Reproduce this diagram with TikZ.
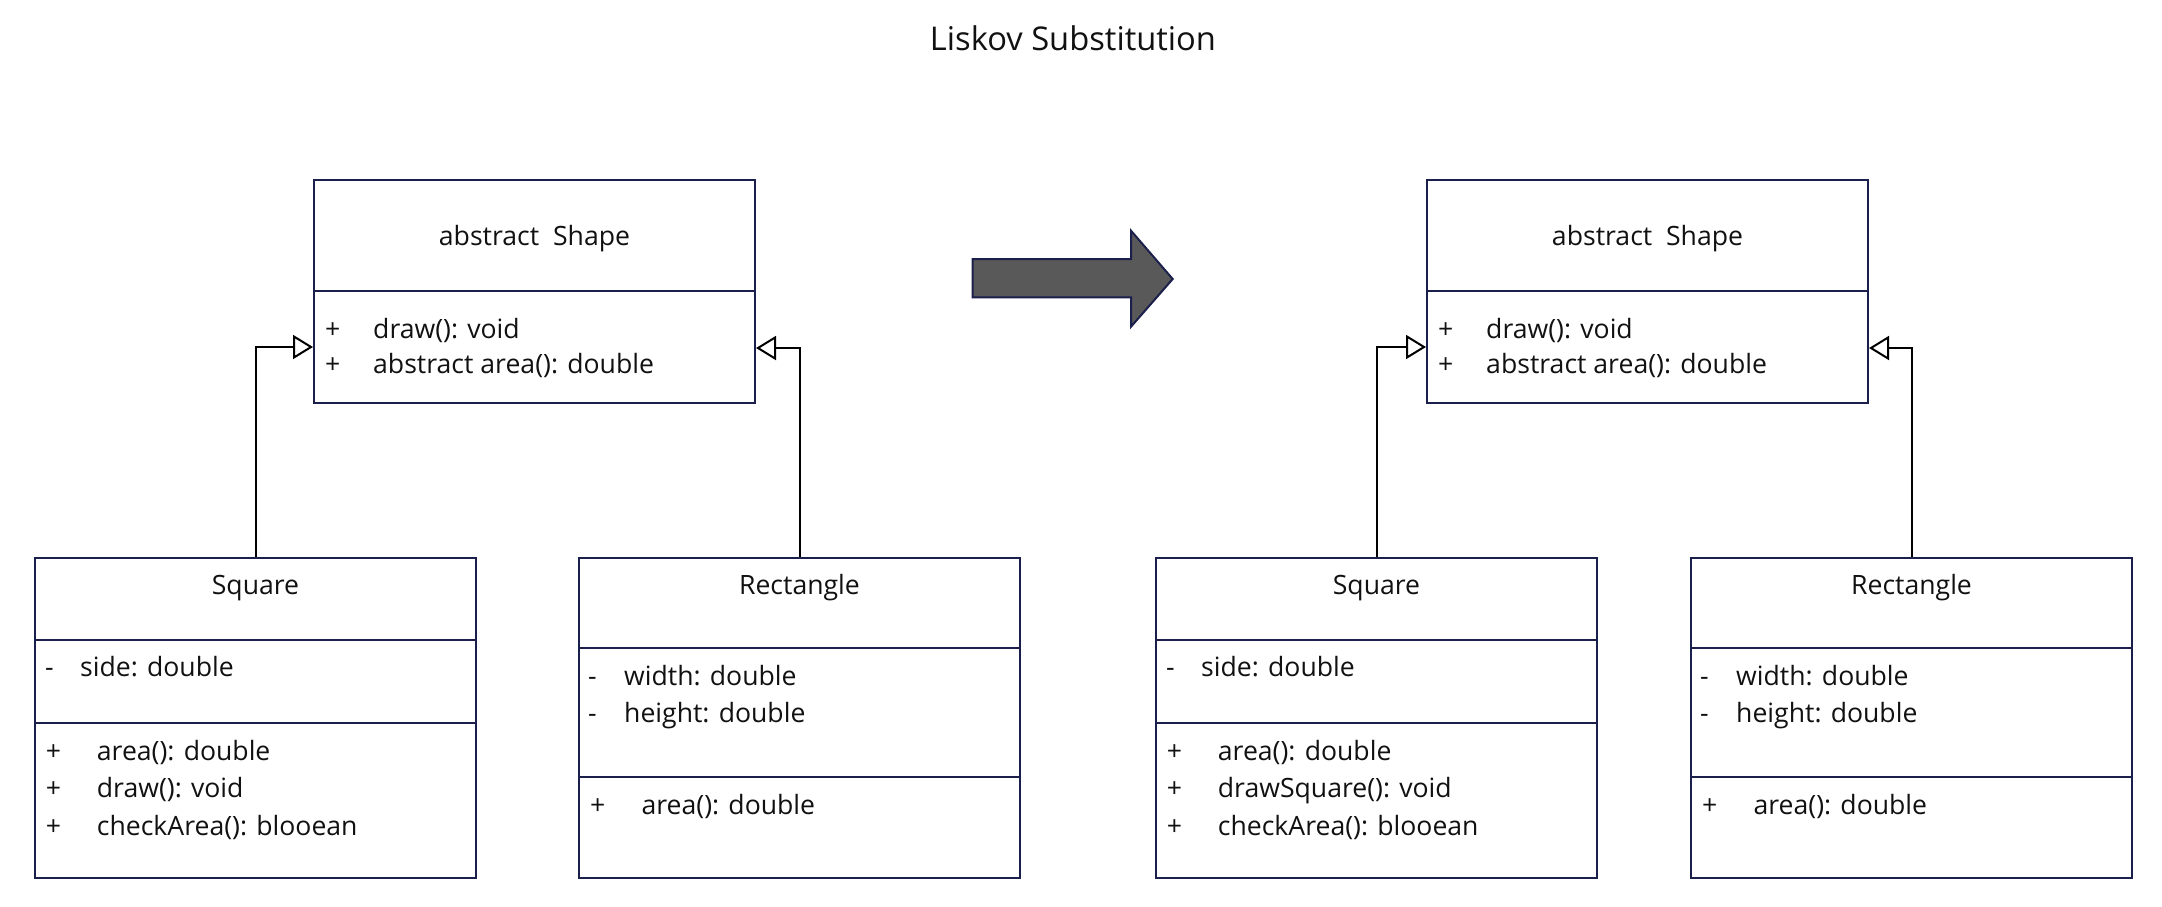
\documentclass[tikz,border=0pt]{standalone}
\usepackage{fontspec}
\setmainfont{Open Sans}
\usetikzlibrary{arrows.meta}
\definecolor{navy}{HTML}{1B1F4B}
\definecolor{ink}{HTML}{111111}
\definecolor{arrowgray}{HTML}{595959}
\begin{document}
\begin{tikzpicture}[x=1pt,y=-1pt,
  classbox/.style={draw=navy, line width=2pt, inner sep=0pt, anchor=north west, minimum width=441pt},
  sep/.style={draw=navy, line width=2pt},
  txt/.style={inner sep=0pt, text=ink, font=\fontsize{26.6}{30}\selectfont},
  inh/.style={draw=black, line width=2pt, -{Triangle[length=20pt,width=24pt,fill=white]}},
  bigarrow/.style={draw=navy, fill=arrowgray, line width=2pt, line join=miter}
]
\useasboundingbox (0,0) rectangle (2162,906);

\node[inner sep=0pt, text=ink, font=\fontsize{32.7}{36}\selectfont, anchor=base] (title) at (1073,50.7) {Liskov Substitution};

% ---------- left diagram ----------
\node[classbox, minimum height=223pt] (shapeA) at (313,179) {};
\draw[sep] (shapeA.west |- 0,291) -- (shapeA.east |- 0,291);
\node[txt, anchor=base] (shapeAn) at ([shift={(0,66)}]shapeA.north) {abstract\ \ Shape};
\node[txt, anchor=base west] (shapeAp1) at ([shift={(12,159)}]shapeA.north west) {+};
\node[txt, anchor=base west] (shapeAm1) at ([shift={(60,159)}]shapeA.north west) {draw(): void};
\node[txt, anchor=base west] (shapeAp2) at ([shift={(12,194)}]shapeA.north west) {+};
\node[txt, anchor=base west] (shapeAm2) at ([shift={(60,194)}]shapeA.north west) {abstract area(): double};

\node[classbox, minimum height=320pt] (sqA) at (34,557) {};
\draw[sep] (sqA.west |- 0,640) -- (sqA.east |- 0,640);
\draw[sep] (sqA.west |- 0,723) -- (sqA.east |- 0,723);
\node[txt, anchor=base] (sqAn) at ([shift={(0,37.3)}]sqA.north) {Square};
\node[txt, anchor=base west] (sqAd1) at ([shift={(11,119.7)}]sqA.north west) {-};
\node[txt, anchor=base west] (sqAa1) at ([shift={(46,119.7)}]sqA.north west) {side: double};
\node[txt, anchor=base west] (sqAp1) at ([shift={(11.7,203)}]sqA.north west) {+};
\node[txt, anchor=base west] (sqAm1) at ([shift={(62.7,203)}]sqA.north west) {area(): double};
\node[txt, anchor=base west] (sqAp2) at ([shift={(11.7,240.7)}]sqA.north west) {+};
\node[txt, anchor=base west] (sqAm2) at ([shift={(62.7,240.7)}]sqA.north west) {draw(): void};
\node[txt, anchor=base west] (sqAp3) at ([shift={(11.7,278)}]sqA.north west) {+};
\node[txt, anchor=base west] (sqAm3) at ([shift={(62.7,278)}]sqA.north west) {checkArea(): blooean};

\node[classbox, minimum height=320pt] (rectA) at (578,557) {};
\draw[sep] (rectA.west |- 0,648) -- (rectA.east |- 0,648);
\draw[sep] (rectA.west |- 0,777) -- (rectA.east |- 0,777);
\node[txt, anchor=base] (rectAn) at ([shift={(0,37)}]rectA.north) {Rectangle};
\node[txt, anchor=base west] (rectAd1) at ([shift={(10,128)}]rectA.north west) {-};
\node[txt, anchor=base west] (rectAa1) at ([shift={(46,128)}]rectA.north west) {width: double};
\node[txt, anchor=base west] (rectAd2) at ([shift={(10,165.7)}]rectA.north west) {-};
\node[txt, anchor=base west] (rectAa2) at ([shift={(46,165.7)}]rectA.north west) {height: double};
\node[txt, anchor=base west] (rectAp1) at ([shift={(12,257)}]rectA.north west) {+};
\node[txt, anchor=base west] (rectAm1) at ([shift={(63.4,257)}]rectA.north west) {area(): double};

\draw[inh] (sqA.north) |- (shapeA.west |- 0,347);
\draw[inh] (rectA.north) |- (shapeA.east |- 0,348);

% ---------- big arrow ----------
\draw[bigarrow] (972.7,259) -- (1131,259) -- (1131,230.7) -- (1172.7,279) -- (1131,326.7) -- (1131,297.3) -- (972.7,297.3) -- cycle;

% ---------- right diagram ----------
\node[classbox, minimum height=223pt] (shapeB) at (1426,179) {};
\draw[sep] (shapeB.west |- 0,291) -- (shapeB.east |- 0,291);
\node[txt, anchor=base] (shapeBn) at ([shift={(0,66)}]shapeB.north) {abstract\ \ Shape};
\node[txt, anchor=base west] (shapeBp1) at ([shift={(12,159)}]shapeB.north west) {+};
\node[txt, anchor=base west] (shapeBm1) at ([shift={(60,159)}]shapeB.north west) {draw(): void};
\node[txt, anchor=base west] (shapeBp2) at ([shift={(12,194)}]shapeB.north west) {+};
\node[txt, anchor=base west] (shapeBm2) at ([shift={(60,194)}]shapeB.north west) {abstract area(): double};

\node[classbox, minimum height=320pt] (sqB) at (1155,557) {};
\draw[sep] (sqB.west |- 0,640) -- (sqB.east |- 0,640);
\draw[sep] (sqB.west |- 0,723) -- (sqB.east |- 0,723);
\node[txt, anchor=base] (sqBn) at ([shift={(0,37.3)}]sqB.north) {Square};
\node[txt, anchor=base west] (sqBd1) at ([shift={(11,119.7)}]sqB.north west) {-};
\node[txt, anchor=base west] (sqBa1) at ([shift={(46,119.7)}]sqB.north west) {side: double};
\node[txt, anchor=base west] (sqBp1) at ([shift={(11.7,203)}]sqB.north west) {+};
\node[txt, anchor=base west] (sqBm1) at ([shift={(62.7,203)}]sqB.north west) {area(): double};
\node[txt, anchor=base west] (sqBp2) at ([shift={(11.7,240.7)}]sqB.north west) {+};
\node[txt, anchor=base west] (sqBm2) at ([shift={(62.7,240.7)}]sqB.north west) {drawSquare(): void};
\node[txt, anchor=base west] (sqBp3) at ([shift={(11.7,278)}]sqB.north west) {+};
\node[txt, anchor=base west] (sqBm3) at ([shift={(62.7,278)}]sqB.north west) {checkArea(): blooean};

\node[classbox, minimum height=320pt] (rectB) at (1690,557) {};
\draw[sep] (rectB.west |- 0,648) -- (rectB.east |- 0,648);
\draw[sep] (rectB.west |- 0,777) -- (rectB.east |- 0,777);
\node[txt, anchor=base] (rectBn) at ([shift={(0,37)}]rectB.north) {Rectangle};
\node[txt, anchor=base west] (rectBd1) at ([shift={(10,128)}]rectB.north west) {-};
\node[txt, anchor=base west] (rectBa1) at ([shift={(46,128)}]rectB.north west) {width: double};
\node[txt, anchor=base west] (rectBd2) at ([shift={(10,165.7)}]rectB.north west) {-};
\node[txt, anchor=base west] (rectBa2) at ([shift={(46,165.7)}]rectB.north west) {height: double};
\node[txt, anchor=base west] (rectBp1) at ([shift={(12,257)}]rectB.north west) {+};
\node[txt, anchor=base west] (rectBm1) at ([shift={(63.4,257)}]rectB.north west) {area(): double};

\draw[inh] (sqB.north) |- (shapeB.west |- 0,347);
\draw[inh] (rectB.north) |- (shapeB.east |- 0,348);
\end{tikzpicture}
\end{document}
